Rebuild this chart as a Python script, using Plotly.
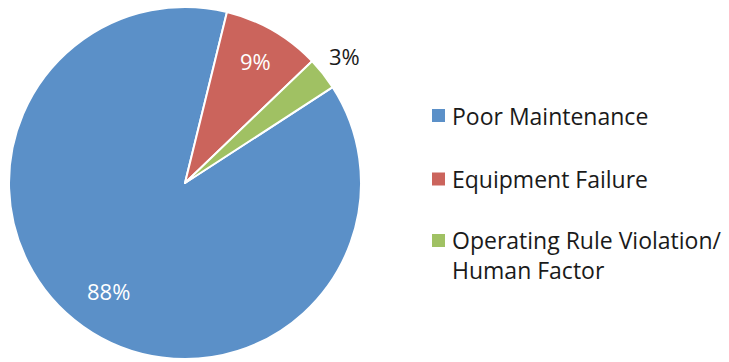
import math
import plotly.graph_objects as go

# Causes and their share of incidents (percent)
causes = ["Poor Maintenance", "Equipment Failure", "Operating Rule Violation/<br>Human Factor"]
shares = [88, 9, 3]
colors = ["#5B90C8", "#CB645C", "#A0C163"]
label_colors = ["white", "white", "#1a1a1a"]
label_radius = [0.75, 0.80, 1.16]   # label distance from centre, as a fraction of the radius

FONT = "'Open Sans', sans-serif"
START_DEG = 57  # clockwise from 12 o'clock, where the first slice begins

# Pie placement in pixels
W, H = 729, 362
CX, CY, R = 185, 183, 176

fig = go.Figure()
fig.add_trace(go.Pie(
    labels=causes,
    values=shares,
    sort=False,
    direction="clockwise",
    rotation=START_DEG,
    marker=dict(colors=colors, line=dict(color="white", width=2)),
    textinfo="none",
    domain=dict(x=[(CX - R) / W, (CX + R) / W], y=[(H - CY - R) / H, (H - CY + R) / H]),
    showlegend=False,
    hoverinfo="label+percent",
))

# Percentage labels placed along each slice's bisector
total = sum(shares)
acc = 0
for v, tc, rf in zip(shares, label_colors, label_radius):
    mid = math.radians(START_DEG + 360 * (acc + v / 2) / total)
    acc += v
    px = CX + rf * R * math.sin(mid)
    py = CY - rf * R * math.cos(mid)
    fig.add_annotation(xref="paper", yref="paper", x=px / W, y=1 - py / H,
                       xanchor="center", yanchor="middle",
                       text=f"{round(100 * v / total)}%", showarrow=False,
                       font=dict(family=FONT, size=22, color=tc))

# Legend: colored squares with category names, laid out on the right
row_centers = [116, 179.5, 241]   # pixel y of each entry's first text line
for name, col, cy in zip(causes, colors, row_centers):
    fig.add_shape(type="rect", xref="paper", yref="paper",
                  x0=432 / W, x1=445 / W, y0=1 - (cy + 6) / H, y1=1 - (cy - 7) / H,
                  fillcolor=col, line=dict(width=0))
    fig.add_annotation(xref="paper", yref="paper", x=450 / W, y=1 - (cy - 18.5) / H,
                       xanchor="left", yanchor="top", align="left",
                       text=name, showarrow=False,
                       font=dict(family=FONT, size=23, color="#1a1a1a"))

fig.update_layout(
    width=W, height=H,
    margin=dict(l=0, r=0, t=0, b=0),
    paper_bgcolor="white",
    plot_bgcolor="white",
    font=dict(family=FONT),
)

fig.write_html("out.html")
